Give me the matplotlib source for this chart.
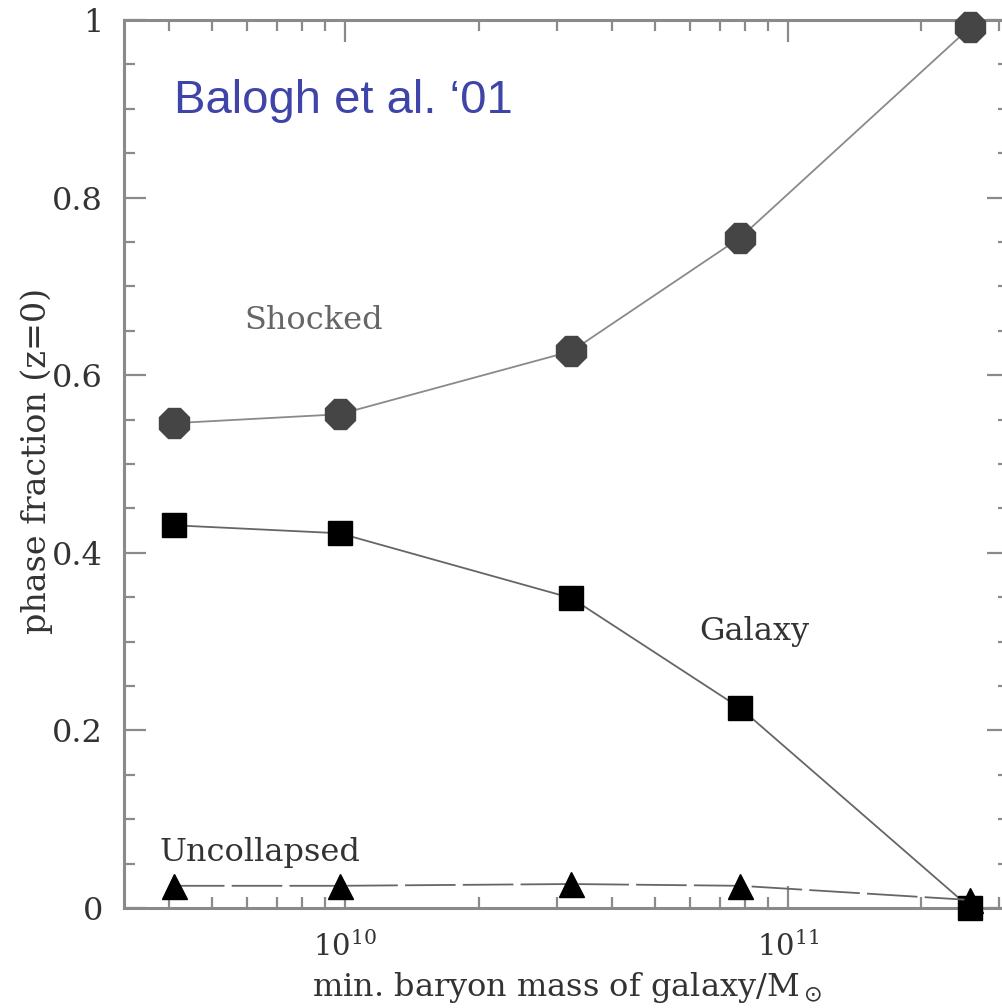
import matplotlib
matplotlib.use("Agg")
import matplotlib.pyplot as plt
from matplotlib.ticker import LogLocator, MultipleLocator, NullFormatter

# min. baryon mass of galaxy (Msun) and phase fractions at z=0
mass = [4.1e9, 9.7e9, 3.24e10, 7.8e10, 2.58e11]
shocked = [0.546, 0.556, 0.627, 0.755, 0.992]
galaxy = [0.431, 0.422, 0.349, 0.225, 0.0]
uncollapsed = [0.025, 0.025, 0.027, 0.025, 0.009]

yticks = [0, 0.2, 0.4, 0.6, 0.8, 1.0]
ytick_labels = ["0", "0.2", "0.4", "0.6", "0.8", "1"]

GREY = "#8a8a8a"
SERIF = "DejaVu Serif"

fig = plt.figure(figsize=(10.03, 10.08), dpi=100)
# right edge of the original scan is cropped, so axes run past the figure
ax = fig.add_axes([124 / 1003, 1 - 908 / 1008, (1009.5 - 124) / 1003, 888 / 1008])

ax.plot(mass, shocked, color=GREY, lw=1.3, marker="8", ms=24,
        mfc="#454545", mec="#454545", zorder=3, clip_on=False)
ax.plot(mass, galaxy, color="#666666", lw=1.3, marker="s", ms=17,
        mfc="black", mec="black", zorder=3, clip_on=False)
ax.plot(mass, uncollapsed, color="#666666", lw=1.3, marker="^", ms=18,
        mfc="black", mec="black", zorder=3, clip_on=False, dashes=(28, 4))

ax.set_xscale("log")
ax.set_xlim(10 ** 9.5, 10 ** 11.5)
ax.set_ylim(0, 1)

ax.xaxis.set_major_locator(LogLocator(base=10, numticks=10))
ax.xaxis.set_minor_locator(LogLocator(base=10, subs=range(2, 10), numticks=20))
ax.xaxis.set_minor_formatter(NullFormatter())
ax.yaxis.set_minor_locator(MultipleLocator(0.05))
ax.set_yticks(yticks)
ax.set_yticklabels(ytick_labels)

ax.tick_params(which="both", direction="in", top=True, right=True,
               color=GREY, width=1.6, labelcolor="#333333")
ax.tick_params(which="major", length=16)
ax.tick_params(which="minor", length=8)
ax.tick_params(axis="y", which="major", labelsize=23, pad=15)
ax.tick_params(axis="x", which="major", labelsize=21, pad=17)
for lab in ax.get_xticklabels() + ax.get_yticklabels():
    lab.set_family(SERIF)
for s in ax.spines.values():
    s.set_color(GREY)
    s.set_linewidth(2.2)

ax.set_xlabel(r"min. baryon mass of galaxy/M$_\odot$", family=SERIF,
              fontsize=23, color="#333333")
ax.set_ylabel("phase fraction (z=0)", family=SERIF, fontsize=24,
              color="#333333")
ax.xaxis.set_label_coords(0.5, -0.07)
ax.yaxis.set_label_coords(-0.08, 0.504)

ax.text(5.9e9, 0.662, "Shocked", family=SERIF, fontsize=23, color="#666666",
        ha="left", va="center")
ax.text(6.3e10, 0.311, "Galaxy", family=SERIF, fontsize=23, color="#333333",
        ha="left", va="center")
ax.text(3.8e9, 0.062, "Uncollapsed", family=SERIF, fontsize=23,
        color="#333333", ha="left", va="center")
ax.text(4.1e9, 0.909, "Balogh et al. \u201801", family="Liberation Sans",
        fontsize=34, color="#3f45a8", ha="left", va="center")

fig.savefig("out.png", dpi=100)
